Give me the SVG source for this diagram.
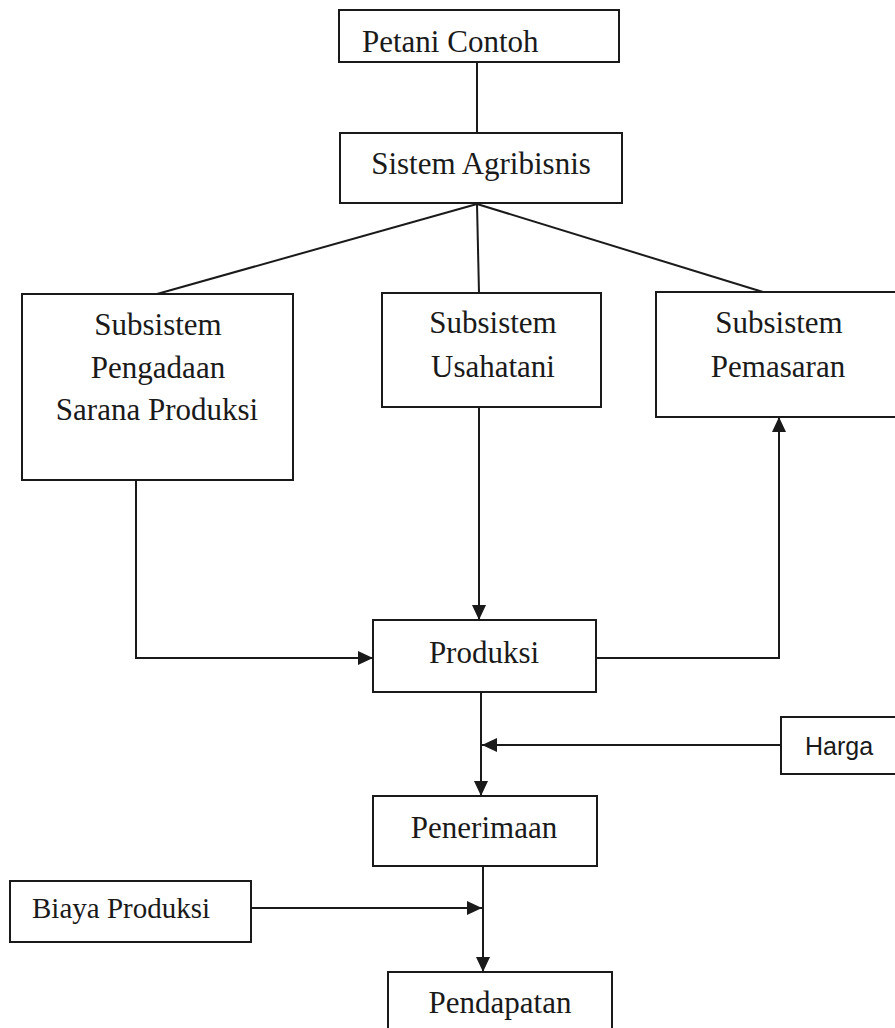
<svg xmlns="http://www.w3.org/2000/svg" width="895" height="1028" viewBox="0 0 895 1028">
<defs>
<style>
.box{fill:#fff;stroke:#1a1a1a;stroke-width:2}
.t{font-family:"Liberation Serif","Times New Roman",serif;font-size:31px;fill:#1a1a1a;text-anchor:middle}
.s{font-family:"Liberation Sans",Arial,sans-serif;font-size:25px;fill:#1a1a1a}
.ln{fill:none;stroke:#1a1a1a;stroke-width:2}
</style>
<marker id="ah" viewBox="0 0 15 14" refX="15" refY="7" markerWidth="15" markerHeight="14" markerUnits="userSpaceOnUse" orient="auto">
<path d="M0,0 L15,7 L0,14 Z" fill="#1a1a1a"/>
</marker>
</defs>
<rect width="895" height="1028" fill="#fff"/>
<g id="connectors">
<line class="ln" x1="477" y1="62" x2="477" y2="133"/>
<line class="ln" x1="477" y1="204" x2="157" y2="294"/>
<line class="ln" x1="477" y1="204" x2="479" y2="293"/>
<line class="ln" x1="477" y1="204" x2="763" y2="292"/>
<polyline class="ln" points="136,480 136,658 373,658" marker-end="url(#ah)"/>
<line class="ln" x1="479" y1="407" x2="479" y2="620" marker-end="url(#ah)"/>
<polyline class="ln" points="596,658 779,658 779,417" marker-end="url(#ah)"/>
<line class="ln" x1="481" y1="692" x2="481" y2="796" marker-end="url(#ah)"/>
<line class="ln" x1="781" y1="745" x2="482" y2="745" marker-end="url(#ah)"/>
<line class="ln" x1="483" y1="866" x2="483" y2="972" marker-end="url(#ah)"/>
<line class="ln" x1="251" y1="908" x2="482" y2="908" marker-end="url(#ah)"/>
</g>
<g id="petani">
<rect class="box" x="339" y="10" width="280" height="52"/>
<text class="t" x="362" y="52" style="text-anchor:start">Petani Contoh</text>
</g>
<g id="sistem">
<rect class="box" x="340" y="133" width="282" height="70"/>
<text class="t" x="481" y="174">Sistem Agribisnis</text>
</g>
<g id="pengadaan">
<rect class="box" x="22" y="294" width="271" height="186"/>
<text class="t" x="158" y="335">Subsistem</text>
<text class="t" x="158" y="378">Pengadaan</text>
<text class="t" x="157" y="420">Sarana Produksi</text>
</g>
<g id="usahatani">
<rect class="box" x="382" y="293" width="219" height="114"/>
<text class="t" x="493" y="333">Subsistem</text>
<text class="t" x="493" y="377">Usahatani</text>
</g>
<g id="pemasaran">
<rect class="box" x="656" y="292" width="250" height="125"/>
<text class="t" x="779" y="333">Subsistem</text>
<text class="t" x="778" y="377">Pemasaran</text>
</g>
<g id="produksi">
<rect class="box" x="373" y="620" width="223" height="72"/>
<text class="t" x="484" y="663">Produksi</text>
</g>
<g id="harga">
<rect class="box" x="781" y="717" width="130" height="57"/>
<text class="s" x="805" y="755">Harga</text>
</g>
<g id="penerimaan">
<rect class="box" x="373" y="796" width="224" height="70"/>
<text class="t" x="484" y="838">Penerimaan</text>
</g>
<g id="biaya">
<rect class="box" x="10" y="881" width="241" height="61"/>
<text class="t" x="32" y="918" style="text-anchor:start;font-size:29px">Biaya Produksi</text>
</g>
<g id="pendapatan">
<rect class="box" x="388" y="972" width="224" height="70"/>
<text class="t" x="500" y="1013">Pendapatan</text>
</g>
</svg>
